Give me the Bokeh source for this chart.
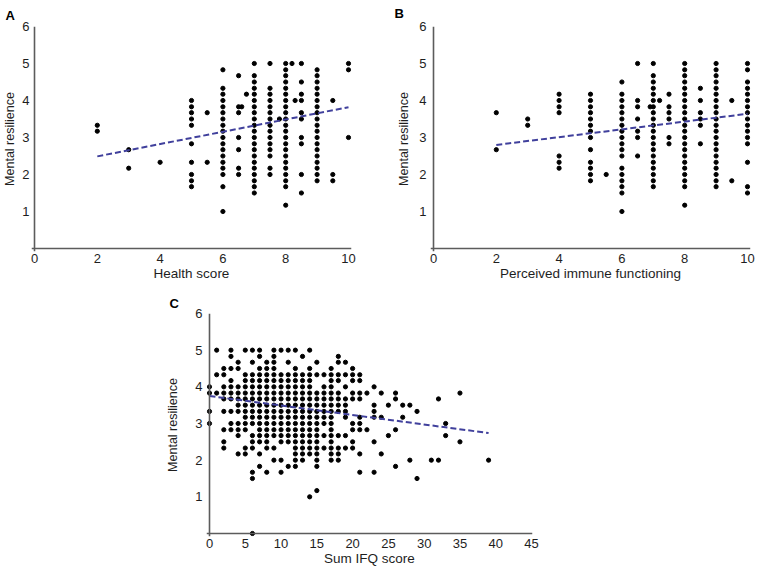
from bokeh.plotting import figure
from bokeh.models import Range1d, Span, FixedTicker
from bokeh.layouts import column, row, Spacer
from bokeh.embed import file_html
from bokeh.resources import INLINE

# ---------------- data ----------------
# Panel A: health score (x) -> mental resilience values at that score
health_x = [2, 3, 4, 5, 5.5, 6, 6.5, 6.6, 6.75, 7, 7.5, 7.8, 8, 8.2, 8.3, 8.5, 9, 9.5, 10]
health_res = [
    [3.33, 3.17],
    [2.67, 2.17],
    [2.33],
    [4.00, 3.83, 3.67, 3.50, 3.33, 2.83, 2.33, 2.00, 1.83, 1.67],
    [3.67, 2.33],
    [4.83, 4.33, 4.17, 4.00, 3.83, 3.67, 3.50, 3.33, 3.17, 3.00, 2.83, 2.67, 2.50, 2.33, 2.17, 2.00, 1.67, 1.00],
    [4.67, 3.83, 3.67, 3.00, 2.67, 2.17, 2.00],
    [3.83],
    [4.17],
    [5.00, 4.67, 4.50, 4.33, 4.17, 4.00, 3.83, 3.67, 3.50, 3.33, 3.17, 3.00, 2.83, 2.67, 2.50, 2.33, 2.17, 2.00, 1.83, 1.67, 1.50],
    [5.00, 4.33, 4.17, 4.00, 3.83, 3.67, 3.50, 3.33, 3.17, 3.00, 2.83, 2.67, 2.50, 2.17, 2.00],
    [3.50],
    [5.00, 4.83, 4.67, 4.50, 4.33, 4.17, 4.00, 3.83, 3.67, 3.50, 3.33, 3.17, 3.00, 2.83, 2.67, 2.50, 2.33, 2.17, 2.00, 1.83, 1.67, 1.17],
    [5.00],
    [4.00],
    [5.00, 4.50, 4.17, 4.00, 3.67, 3.50, 3.00, 2.83, 2.00, 1.50],
    [4.83, 4.67, 4.50, 4.33, 4.17, 4.00, 3.83, 3.67, 3.50, 3.33, 3.17, 3.00, 2.83, 2.67, 2.50, 2.33, 2.17, 2.00, 1.83],
    [4.00, 2.00, 1.83],
    [5.00, 4.83, 3.00],
]
health_fit_x = [2, 10]
health_fit_y = [2.49, 3.82]

# Panel B: perceived immune functioning (x) -> mental resilience values
immune_x = [2, 3, 4, 5, 5.5, 6, 6.5, 6.9, 7, 7.2, 7.5, 8, 8.5, 9, 9.5, 10]
immune_res = [
    [3.67, 2.67],
    [3.50, 3.33],
    [4.17, 4.00, 3.83, 3.67, 2.50, 2.33, 2.17],
    [4.17, 4.00, 3.83, 3.67, 3.50, 3.33, 3.17, 3.00, 2.67, 2.33, 2.17, 2.00, 1.83],
    [2.00],
    [4.50, 4.17, 4.00, 3.83, 3.67, 3.50, 3.33, 3.17, 3.00, 2.83, 2.67, 2.50, 2.17, 2.00, 1.83, 1.67, 1.50, 1.00],
    [5.00, 4.00, 3.83, 3.50, 3.17, 3.00, 2.50],
    [3.83],
    [5.00, 4.67, 4.50, 4.33, 4.17, 4.00, 3.83, 3.67, 3.50, 3.33, 3.17, 3.00, 2.83, 2.67, 2.50, 2.33, 2.17, 2.00, 1.83, 1.67],
    [4.00],
    [4.17, 3.83, 3.67, 3.50, 3.00, 2.83],
    [5.00, 4.83, 4.67, 4.50, 4.33, 4.17, 4.00, 3.83, 3.67, 3.50, 3.33, 3.17, 3.00, 2.83, 2.67, 2.50, 2.33, 2.17, 2.00, 1.83, 1.67, 1.17],
    [4.33, 4.00, 3.67, 3.50, 3.33, 2.83],
    [5.00, 4.83, 4.67, 4.50, 4.33, 4.17, 4.00, 3.83, 3.67, 3.50, 3.33, 3.17, 3.00, 2.83, 2.67, 2.50, 2.33, 2.17, 2.00, 1.83, 1.67],
    [4.00, 1.83],
    [5.00, 4.83, 4.50, 4.33, 4.17, 4.00, 3.83, 3.67, 3.50, 3.33, 3.17, 3.00, 2.83, 2.33, 1.67, 1.50],
]
immune_fit_x = [2, 10]
immune_fit_y = [2.80, 3.64]

# Panel C: mental resilience level -> sum IFQ scores observed at that level
ifq_levels = [5.00, 4.83, 4.67, 4.50, 4.33, 4.17, 4.00, 3.83, 3.67, 3.50, 3.33, 3.17,
              3.00, 2.83, 2.67, 2.50, 2.33, 2.17, 2.00, 1.83, 1.67, 1.50, 1.17, 1.00, 0.00]
ifq_scores = [
    [1, 3, 5, 6, 7, 9, 10, 11, 12, 14],
    [3, 7, 9, 13, 18],
    [4, 6, 8, 9, 11, 15, 18, 19],
    [2, 3, 4, 7, 8, 9, 12, 14, 17, 20],
    [1, 2, 5, 6, 7, 8, 9, 10, 11, 12, 13, 14, 15, 16, 17, 18, 19, 20, 21],
    [3, 5, 6, 7, 8, 9, 10, 11, 12, 13, 14, 17, 18, 20, 21],
    [0, 2, 3, 4, 5, 6, 7, 8, 9, 10, 11, 12, 13, 14, 16, 17, 19, 23],
    [0, 1, 2, 3, 4, 5, 6, 7, 8, 9, 10, 11, 12, 13, 14, 15, 16, 17, 18, 20, 21, 22, 24, 26, 35],
    [2, 3, 4, 5, 6, 7, 8, 9, 10, 11, 12, 13, 14, 15, 16, 17, 18, 19, 20, 21, 26, 32],
    [4, 5, 6, 7, 8, 9, 10, 11, 12, 13, 14, 15, 16, 17, 18, 19, 23, 25, 27, 28],
    [0, 2, 3, 4, 5, 6, 7, 8, 9, 10, 11, 12, 13, 14, 15, 16, 17, 18, 19, 23, 29],
    [5, 6, 7, 8, 9, 10, 11, 12, 13, 14, 15, 16, 17, 19, 21, 23, 24, 27],
    [0, 3, 4, 5, 6, 7, 8, 9, 10, 11, 12, 13, 14, 15, 16, 17, 20, 21, 33],
    [2, 3, 4, 5, 7, 8, 9, 10, 11, 12, 13, 14, 15, 17, 20, 21, 22, 26],
    [4, 6, 7, 8, 9, 10, 11, 12, 13, 14, 15, 16, 17, 18, 19, 25, 33],
    [2, 6, 7, 8, 10, 11, 12, 13, 14, 15, 17, 20, 23, 35],
    [2, 5, 6, 8, 9, 12, 13, 14, 15, 16, 17, 18, 19, 20],
    [4, 5, 7, 12, 13, 14, 15, 17, 18, 21, 24],
    [9, 10, 12, 13, 15, 17, 18, 28, 31, 32, 39],
    [7, 11, 12, 15, 26],
    [6, 8, 10, 21, 23],
    [6, 29],
    [15],
    [14],
    [6],
]
ifq_fit_x = [0, 39]
ifq_fit_y = [3.75, 2.74]

ab_x_ticks = [0, 2, 4, 6, 8, 10]
c_x_ticks = [0, 5, 10, 15, 20, 25, 30, 35, 40, 45]
y_ticks = [1, 2, 3, 4, 5, 6]

# ---------------- styling ----------------
FONT = "Liberation Sans"
TXT = "#1e1e1e"
AXC = "#5c5c5c"
FITC = "#40409c"


def flatten_cols(xs, cols):
    X, Y = [], []
    for x, col in zip(xs, cols):
        X += [x] * len(col)
        Y += list(col)
    return X, Y


def flatten_rows(levels, rows):
    X, Y = [], []
    for lv, r in zip(levels, rows):
        X += list(r)
        Y += [lv] * len(r)
    return X, Y


def make_panel(X, Y, fx, fy, letter, xlabel, xticks, px_per_x, fw, fh,
               mbl, mbr, mbt, mbb, ystd, ylabstd, title_offset, title_valign, title_standoff):
    pad = 3.0
    ppy = (fh - pad) / 6.0
    p = figure(frame_width=fw, frame_height=fh,
               x_range=Range1d(-pad / px_per_x, (fw - pad) / px_per_x),
               y_range=Range1d(-pad / ppy, 6.0),
               output_backend="svg", toolbar_location=None,
               min_border_left=mbl, min_border_right=mbr,
               min_border_top=mbt, min_border_bottom=mbb)
    p.title.text = letter
    p.title.align = "left"
    p.title.offset = title_offset
    p.title.vertical_align = title_valign
    p.title.standoff = title_standoff
    p.title.text_font = FONT
    p.title.text_font_style = "bold"
    p.title.text_font_size = "13px"
    p.title.text_color = "black"

    p.xaxis.axis_label = xlabel
    p.yaxis.axis_label = "Mental resilience"
    p.xaxis.ticker = FixedTicker(ticks=xticks)
    p.yaxis.ticker = FixedTicker(ticks=y_ticks)
    for ax in [p.xaxis[0], p.yaxis[0]]:
        ax.axis_line_color = None
        ax.major_tick_line_color = None
        ax.minor_tick_line_color = None
        ax.major_tick_out = 0
        ax.major_tick_in = 0
        ax.minor_tick_out = 0
        ax.minor_tick_in = 0
        ax.major_label_text_font = FONT
        ax.major_label_text_font_size = "13px"
        ax.major_label_text_color = TXT
        ax.axis_label_text_font = FONT
        ax.axis_label_text_font_style = "normal"
        ax.axis_label_text_color = TXT
    p.xaxis.axis_label_text_font_size = "13.5px"
    p.yaxis.axis_label_text_font_size = "12.5px"
    p.xaxis.major_label_standoff = 2
    p.xaxis.axis_label_standoff = 0
    p.yaxis.major_label_standoff = ystd
    p.yaxis.axis_label_standoff = ylabstd
    p.xgrid.visible = False
    p.ygrid.visible = False
    p.outline_line_color = None

    p.add_layout(Span(location=0, dimension="height", line_color=AXC, line_width=1.6))
    p.add_layout(Span(location=0, dimension="width", line_color=AXC, line_width=1.6))

    p.scatter(X, Y, size=4.2, color="black")
    p.line(fx, fy, line_color=FITC, line_width=2, line_dash="6 3")
    return p


ax_, ay_ = flatten_cols(health_x, health_res)
bx_, by_ = flatten_cols(immune_x, immune_res)
cx_, cy_ = flatten_rows(ifq_levels, ifq_scores)

pA = make_panel(ax_, ay_, health_fit_x, health_fit_y, "A", "Health score", ab_x_ticks,
                31.4, 320, 225, 26, 43, 26, 33, 2, 2, -26, "top", 3)
pB = make_panel(bx_, by_, immune_fit_x, immune_fit_y, "B", "Perceived immune functioning", ab_x_ticks,
                31.4, 320, 225, 36, 7, 26, 33, 4, 5, -36, "top", 8)
pC = make_panel(cx_, cy_, ifq_fit_x, ifq_fit_y, "C", "Sum IFQ score", c_x_ticks,
                7.156, 326, 223, 40, 12, 29, 30, 4, 12, -37, "bottom", 6)

layout = column(row(pA, pB), row(Spacer(width=163, height=282), pC))

open("out.html", "w").write(file_html(layout, INLINE))
